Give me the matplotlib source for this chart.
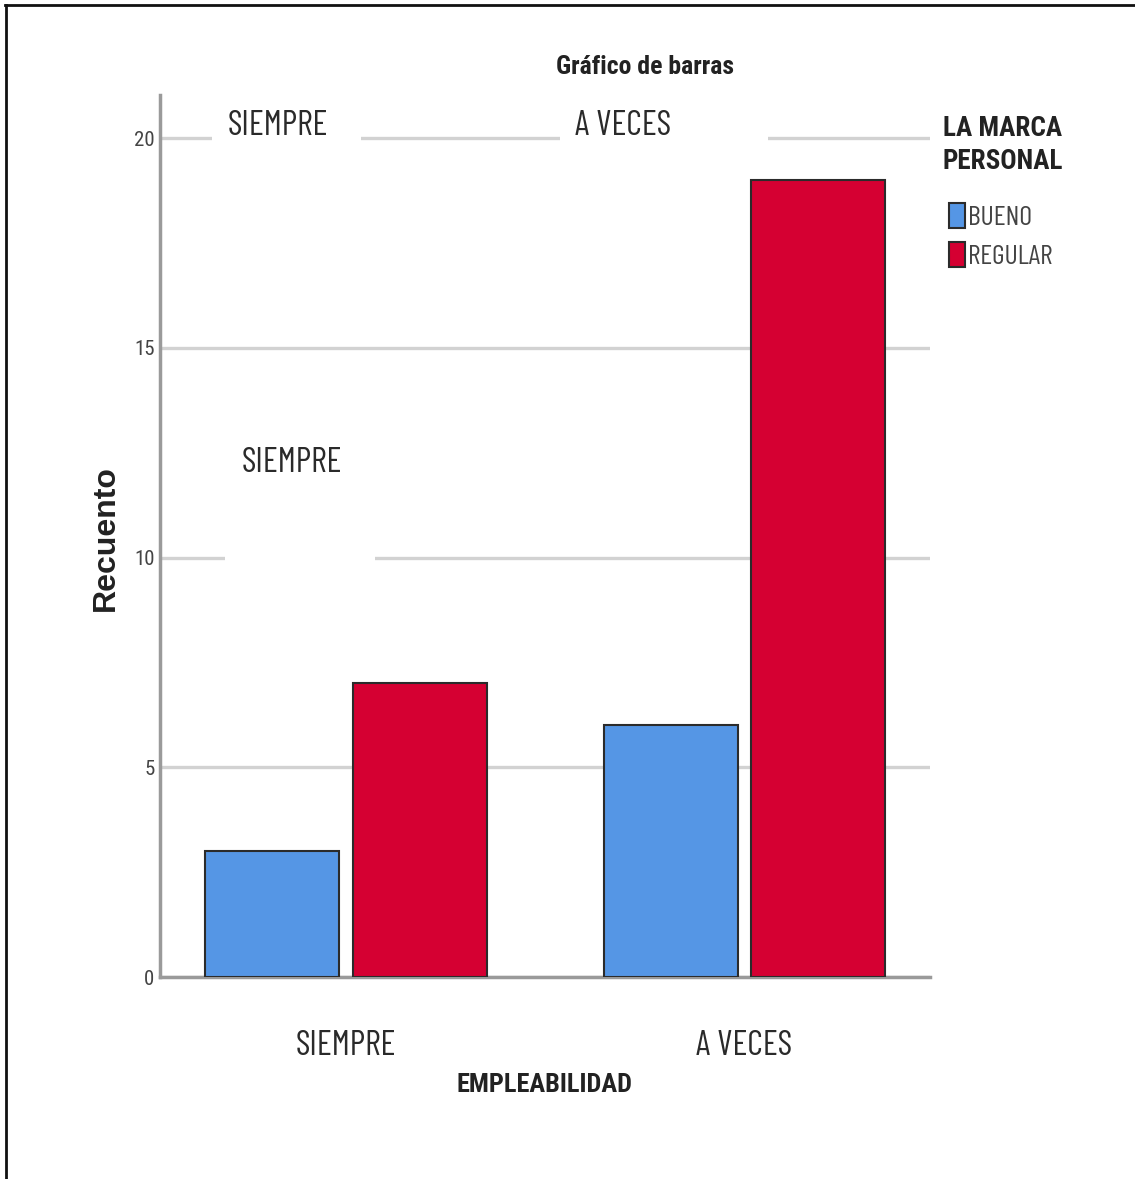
import matplotlib.pyplot as plt
import numpy as np
from matplotlib.lines import Line2D
from matplotlib.patches import Rectangle

# Counts per employability level, split by personal-brand rating
categorias = ['SIEMPRE', 'A VECES']
bueno = [3, 6]
regular = [7, 19]
series = ['BUENO', 'REGULAR']
colores = ['#5596E5', '#D50032']
y_ticks = [0, 5, 10, 15, 20]

NARROW = ['Roboto Condensed', 'Liberation Sans Narrow', 'Archivo Narrow',
          'PT Sans Narrow', 'DejaVu Sans']
SLIM = ['Barlow Condensed', 'Roboto Condensed', 'Liberation Sans Narrow',
        'DejaVu Sans']
WIDE = ['Liberation Sans', 'DejaVu Sans']
TXT = dict(family=NARROW, stretch='condensed')
CAP = dict(family=SLIM, stretch='condensed')

fig = plt.figure(figsize=(11.35, 11.79), dpi=100)
ax = fig.add_axes([0.141, 0.1713, 0.678, 0.7481])

x = np.arange(len(categorias))
ancho = 0.336
desp = 0.185
b1 = ax.bar(x - desp, bueno, ancho, color=colores[0], edgecolor='#2b2b2b',
            linewidth=1.5, label=series[0], zorder=3)
b2 = ax.bar(x + desp, regular, ancho, color=colores[1], edgecolor='#2b2b2b',
            linewidth=1.5, label=series[1], zorder=3)

ax.set_xlim(-0.466, 1.464)
ax.set_ylim(0, 21.03)
ax.set_yticks(y_ticks)
ax.set_yticklabels([str(v) for v in y_ticks], fontsize=15, color='#444444',
                   **TXT)
ax.tick_params(axis='y', length=0, pad=4)
ax.set_xticks(x)
ax.set_xticklabels(categorias, fontsize=25, color='#2a2a2a', **CAP)
ax.tick_params(axis='x', length=0, pad=38)

ax.set_axisbelow(True)
ax.yaxis.grid(True, color='#d2d2d2', linewidth=2.4)
for s in ['top', 'right']:
    ax.spines[s].set_visible(False)
for s in ['left', 'bottom']:
    ax.spines[s].set_color('#9a9a9a')
    ax.spines[s].set_linewidth(2.5)

# white patches that interrupt some grid lines
for x0, x1, yc in [(-0.336, 0.038, 20), (0.536, 1.058, 20), (-0.303, 0.073, 10)]:
    ax.add_patch(Rectangle((x0, yc - 0.3), x1 - x0, 0.6, facecolor='white',
                           edgecolor='none', zorder=1.5))

# loose category captions inside the plot area
for cx, cy, s in [(278, 126, 'SIEMPRE'), (623, 126, 'A VECES'),
                  (292, 463, 'SIEMPRE')]:
    fig.text(cx / 1135, 1 - cy / 1179, s, fontsize=25, color='#2a2a2a',
             ha='center', va='center', **CAP)

fig.text(645 / 1135, 1 - 67 / 1179, 'Gráfico de barras', fontsize=18.5,
         fontweight='bold', color='#222222', ha='center', va='center', **TXT)
fig.text(545 / 1135, 1 - 1085 / 1179, 'EMPLEABILIDAD', fontsize=19,
         fontweight='bold', color='#222222', ha='center', va='center', **TXT)
fig.text(106 / 1135, 1 - 538 / 1179, 'Recuento', family=WIDE,
         fontsize=23, fontweight='bold', color='#222222', rotation=90,
         ha='center', va='center')

# legend heading drawn on its own, entries below it
fig.text(943 / 1135, 1 - 145 / 1179, 'LA MARCA\nPERSONAL', fontsize=19.5,
         fontweight='bold', color='#222222', ha='left', va='center',
         linespacing=1.25, **TXT)
leg = ax.legend(handles=[b1, b2], labels=series, loc='upper left',
                bbox_to_anchor=(949 / 1135, 1 - 203 / 1179),
                bbox_transform=fig.transFigure, frameon=False,
                handlelength=0.58, handleheight=1.0, handletextpad=0.12,
                labelspacing=0.43, borderaxespad=0, borderpad=0,
                prop={'family': SLIM, 'stretch': 'condensed', 'size': 20})
for t in leg.get_texts():
    t.set_color('#444444')

# frame edges along top and left of the image
fig.add_artist(Line2D([5 / 1135, 1], [1 - 5 / 1179] * 2, color='#111111',
                      linewidth=2, transform=fig.transFigure))
fig.add_artist(Line2D([6 / 1135] * 2, [0, 1 - 5 / 1179], color='#111111',
                      linewidth=2, transform=fig.transFigure))

fig.savefig('out.png', dpi=100, facecolor='white')
